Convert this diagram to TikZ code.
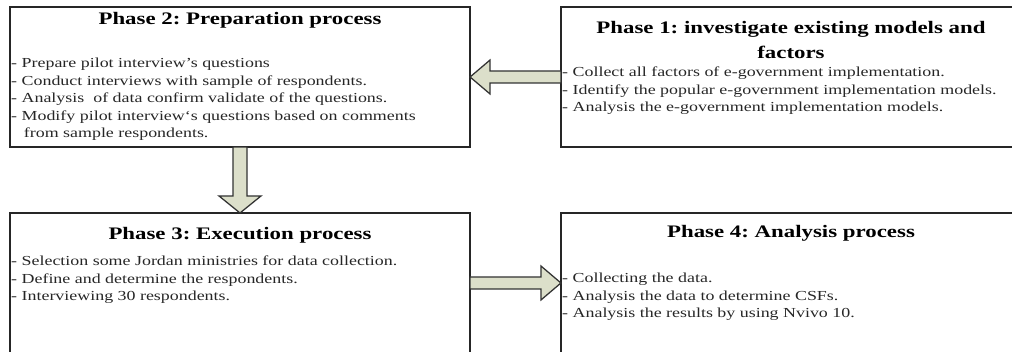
\documentclass[tikz,border=0pt]{standalone}
\usepackage{fontspec}
\setmainfont[FakeStretch=1.3]{Liberation Serif}
\usetikzlibrary{calc}
\definecolor{arrowfill}{HTML}{DCDFCA}
\tikzset{
	phasebox/.style={draw=black!85, line width=0.9pt, minimum width=11.5cm, minimum height=3.5cm, inner sep=0pt, outer sep=0pt},
	phasetitle/.style={font=\fontsize{12.5}{17.8}\selectfont\bfseries\frenchspacing, align=center, inner sep=0pt},
	phaselist/.style={font=\fontsize{9.8}{12.45}\selectfont\frenchspacing, align=left, anchor=north west, inner sep=0pt, text=black!85},
	blockarrow/.style={draw=black!80, fill=arrowfill, line width=0.9pt, line join=miter}
}
\begin{document}
\begin{tikzpicture}[x=0.025cm, y=-0.025cm]
	\useasboundingbox (0,0) rectangle (1012,352);
	\begin{scope}
	\clip (0,0) rectangle (1012,352);
	% Boxes
	\node[phasebox] (p2) at (240,77) {};
	\node[phasebox] (p1) at (791,77) {};
	\node[phasebox] (p3) at (240,283) {};
	\node[phasebox] (p4) at (791,283) {};
	% Titles
	\node[phasetitle] (t2) at ($(p2.north)+(0,13)$) {Phase 2: Preparation process};
	\node[phasetitle] (t1) at ($(p1.north)+(0,33)$) {Phase 1: investigate existing models and\\factors};
	\node[phasetitle] (t3) at ($(p3.north)+(0,22)$) {Phase 3: Execution process};
	\node[phasetitle] (t4) at ($(p4.north)+(0,20)$) {Phase 4: Analysis process};
	% Lists
	\node[phaselist] (l2) at ($(p2.north west)+(1,51)$) {- Prepare pilot interview’s questions\\
		- Conduct interviews with sample of respondents.\\
		- Analysis\ \ of data confirm validate of the questions.\\
		- Modify pilot interview‘s questions based on comments\\
		\hspace*{9pt}from sample respondents.};
	\node[phaselist] (l1) at ($(p1.north west)+(1,60)$) {- Collect all factors of e-government implementation.\\
		- Identify the popular e-government implementation models.\\
		- Analysis the e-government implementation models.};
	\node[phaselist] (l3) at ($(p3.north west)+(1,43)$) {- Selection some Jordan ministries for data collection.\\
		- Define and determine the respondents.\\
		- Interviewing 30 respondents.};
	\node[phaselist] (l4) at ($(p4.north west)+(1,60)$) {- Collecting the data.\\
		- Analysis the data to determine CSFs.\\
		- Analysis the results by using Nvivo 10.};
	% Arrows
	\draw[blockarrow] ($(p1.west)+(0,-6)$) -- ($(p2.east)+(20,-6)$) -- ($(p2.east)+(20,-17)$) -- (p2.east)
		-- ($(p2.east)+(20,17)$) -- ($(p2.east)+(20,6)$) -- ($(p1.west)+(0,6)$) -- cycle;
	\draw[blockarrow] ($(p2.south)+(-7,0)$) -- ($(p3.north)+(-7,-17)$) -- ($(p3.north)+(-21,-17)$) -- (p3.north)
		-- ($(p3.north)+(21,-17)$) -- ($(p3.north)+(7,-17)$) -- ($(p2.south)+(7,0)$) -- cycle;
	\draw[blockarrow] ($(p3.east)+(0,-6)$) -- ($(p4.west)+(-20,-6)$) -- ($(p4.west)+(-20,-17)$) -- (p4.west)
		-- ($(p4.west)+(-20,17)$) -- ($(p4.west)+(-20,6)$) -- ($(p3.east)+(0,6)$) -- cycle;
	\end{scope}
\end{tikzpicture}
\end{document}
